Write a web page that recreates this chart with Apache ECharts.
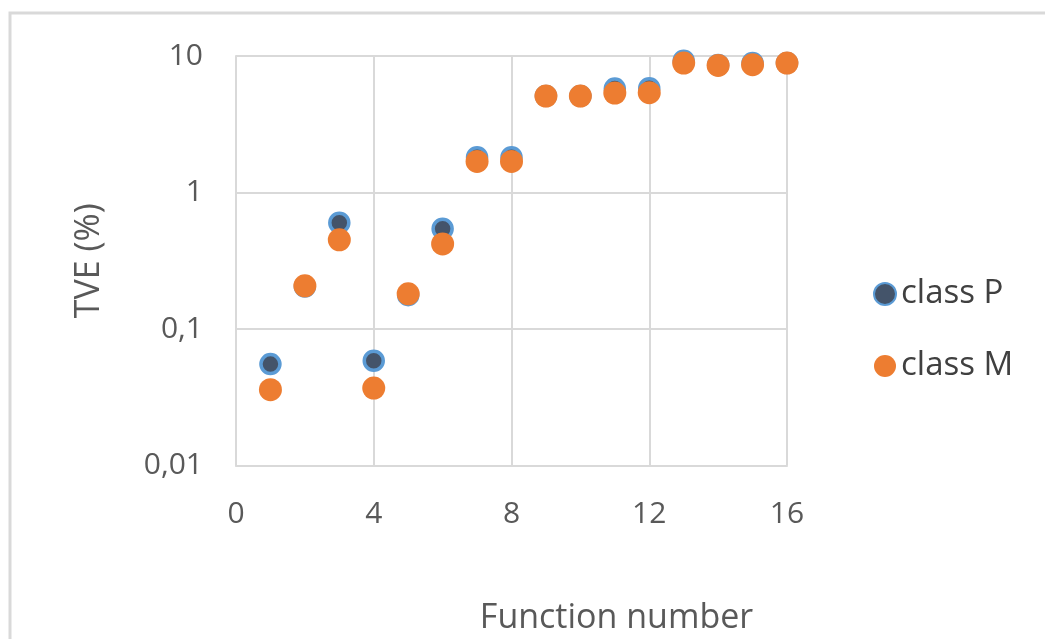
<!DOCTYPE html>
<html>
<head>
<meta charset="utf-8">
<script src="https://cdn.jsdelivr.net/npm/echarts@6/dist/echarts.min.js"></script>
<style>
html,body{margin:0;padding:0;background:#fff;}
#c{width:1045px;height:639px;}
</style>
</head>
<body>
<div id="c"></div>
<script>
var functionNumbers = [1,2,3,4,5,6,7,8,9,10,11,12,13,14,15,16];
var classP = [0.0553,0.205,0.601,0.0585,0.177,0.543,1.81,1.81,5.1,5.1,5.77,5.8,9.24,8.6,8.9,8.9];
var classM = [0.0359,0.207,0.45,0.0369,0.181,0.42,1.69,1.69,5.09,5.09,5.35,5.39,8.87,8.53,8.64,8.87];
var xTicks = [0,4,8,12,16];
var yTicks = [0.01,0.1,1,10];

function pairs(xs, ys){ return xs.map(function(x,i){ return [x, ys[i]]; }); }

var FONT = 'Open Sans';
var TXT = '#595959';
var GRID = '#d9d9d9';

var chart = echarts.init(document.getElementById('c'));
chart.setOption({
  backgroundColor: '#ffffff',
  animation: false,
  graphic: [{
    type: 'rect',
    shape: {x: 10, y: 13, width: 1100, height: 700},
    style: {fill: 'none', stroke: '#d9d9d9', lineWidth: 3},
    silent: true
  }],
  grid: {left: 236, top: 56, right: 258, bottom: 173.5, containLabel: false, outerBoundsMode: 'none'},
  legend: {
    orient: 'vertical',
    left: 868,
    top: 269,
    itemGap: 32,
    itemWidth: 22,
    itemHeight: 22,
    icon: 'circle',
    textStyle: {fontFamily: FONT, fontSize: 33, color: '#404040', lineHeight: 40},
    data: ['class P', 'class M']
  },
  xAxis: {
    type: 'value',
    min: 0, max: 16, interval: 4,
    name: 'Function number',
    nameLocation: 'middle',
    nameGap: 136,
    nameTextStyle: {fontFamily: FONT, fontSize: 34, color: TXT, padding: [0,0,0,210]},
    axisLine: {show: true, lineStyle: {color: GRID, width: 2}},
    axisTick: {show: false},
    axisLabel: {fontFamily: FONT, fontSize: 30, color: TXT, margin: 34,
      customValues: xTicks},
    splitLine: {show: true, lineStyle: {color: GRID, width: 2}}
  },
  yAxis: {
    type: 'log',
    logBase: 10,
    min: 0.01, max: 10,
    name: 'TVE (%)',
    nameLocation: 'middle',
    nameGap: 130,
    nameTextStyle: {fontFamily: FONT, fontSize: 34, color: TXT},
    axisLine: {show: true, lineStyle: {color: GRID, width: 2}},
    axisTick: {show: false},
    axisLabel: {fontFamily: FONT, fontSize: 30, color: TXT, margin: 33,
      formatter: function(v){
        var s = yTicks.find(function(t){ return Math.abs(t - v) / t < 1e-6; });
        return String(s !== undefined ? s : v).replace('.', ',');
      }},
    splitLine: {show: true, lineStyle: {color: GRID, width: 2}}
  },
  series: [{
    name: 'class P',
    type: 'scatter',
    symbol: 'circle',
    symbolSize: 19,
    itemStyle: {color: '#44546A', borderColor: '#5B9BD5', borderWidth: 3.5, opacity: 1},
    data: pairs(functionNumbers, classP),
    z: 2
  }, {
    name: 'class M',
    type: 'scatter',
    symbol: 'circle',
    symbolSize: 23,
    itemStyle: {color: '#ED7D31', opacity: 1},
    data: pairs(functionNumbers, classM),
    z: 3
  }]
});
</script>
</body>
</html>
